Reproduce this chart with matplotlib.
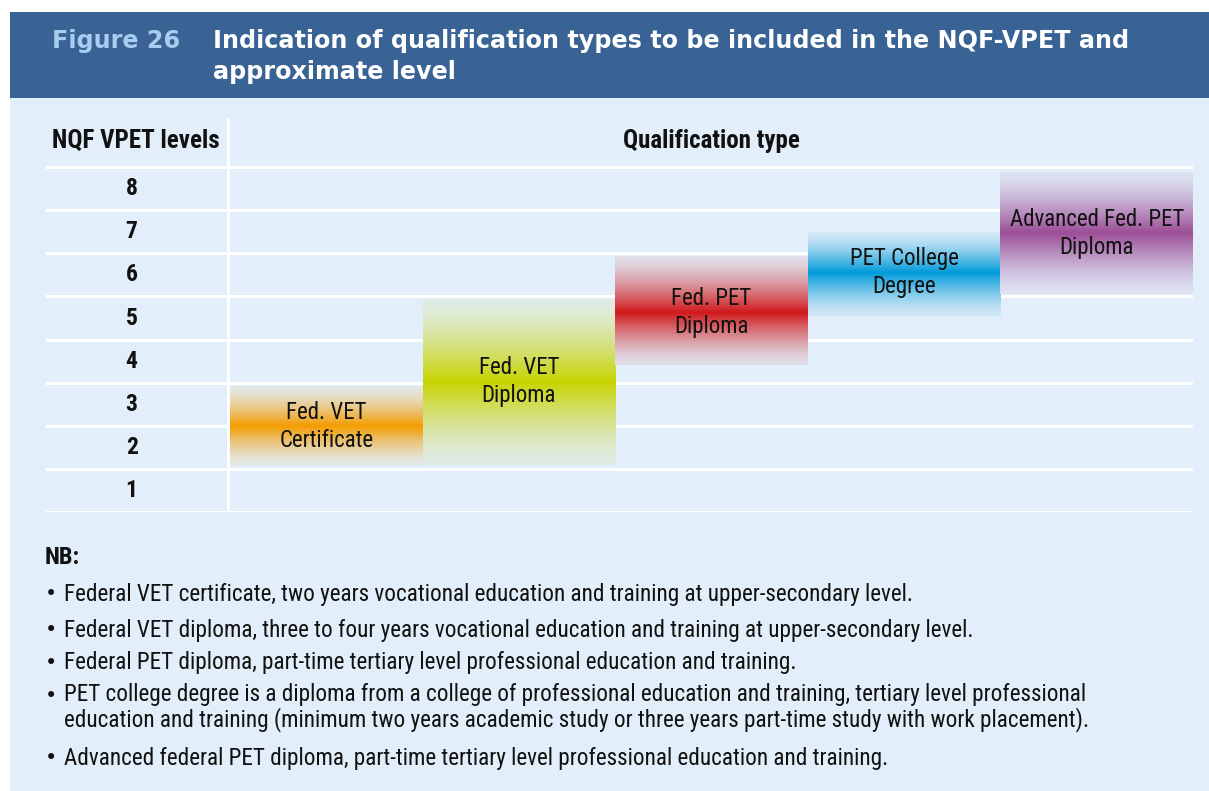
import numpy as np
import matplotlib
matplotlib.use('Agg')
from matplotlib import pyplot as plt
from matplotlib.patches import Rectangle
from matplotlib.colors import to_rgb

# qualification bars: column order, level span and peak level
quals = ['Fed. VET\nCertificate', 'Fed. VET\nDiploma', 'Fed. PET\nDiploma',
         'PET College\nDegree', 'Advanced Fed. PET\nDiploma']
lows = [1.59, 1.59, 3.91, 5.05, 5.56]
highs = [3.41, 5.42, 6.42, 6.98, 8.37]
peaks = [2.49, 3.52, 5.12, 6.05, 6.97]
colours = ['#f39c00', '#c8d400', '#d0191c', '#009ad9', '#9c4d97']

levels = [1, 2, 3, 4, 5, 6, 7, 8]

notes = [
    'Federal VET certificate, two years vocational education and training at upper-secondary level.',
    'Federal VET diploma, three to four years vocational education and training at upper-secondary level.',
    'Federal PET diploma, part-time tertiary level professional education and training.',
    'PET college degree is a diploma from a college of professional education and training, tertiary level professional\n'
    'education and training (minimum two years academic study or three years part-time study with work placement).',
    'Advanced federal PET diploma, part-time tertiary level professional education and training.',
]

NARROW = ['Roboto Condensed', 'Archivo Narrow', 'Liberation Sans Narrow', 'DejaVu Sans']
HEAD = '#386394'
PANEL = '#e2eef9'

W, H = 1209, 791
fig = plt.figure(figsize=(W / 100, H / 100), dpi=100)
fig.patch.set_facecolor('white')


def fx(px):
    return px / W


def fy(py):
    return 1 - py / H


# header band and panel
fig.add_artist(Rectangle((fx(10), fy(791)), fx(1199), (791 - 98) / H,
                         transform=fig.transFigure, facecolor=PANEL, edgecolor='none', zorder=0))
fig.add_artist(Rectangle((fx(10), fy(98)), fx(1199), (98 - 12) / H,
                         transform=fig.transFigure, facecolor=HEAD, edgecolor='none', zorder=0))

fig.text(fx(52), fy(41), 'Figure 26', color='#a8cdf0', fontsize=17.2, fontweight='bold',
         va='center', ha='left', family='DejaVu Sans')
fig.text(fx(213), fy(56.5), 'Indication of qualification types to be included in the NQF-VPET and\napproximate level',
         color='white', fontsize=17.2, fontweight='bold', va='center', ha='left',
         family='DejaVu Sans', linespacing=1.33)

# table axes
ax = fig.add_axes([fx(45), fy(512), fx(1193 - 45), (512 - 118) / H])
ax.set_xlim(-0.96, 5.0)
ax.set_ylim(0.5, 9.64)
ax.axis('off')

ax.hlines([l + 0.5 for l in range(0, 9)], -0.96, 5.0, color='white', lw=2.2, zorder=1)
ax.vlines(-0.01, 0.5, 9.64, color='white', lw=2.2, zorder=1)

bg = np.array(to_rgb(PANEL))
for i, q in enumerate(quals):
    n = 200
    y = np.linspace(lows[i], highs[i], n)
    d = np.where(y >= peaks[i], (y - peaks[i]) / (highs[i] - peaks[i]),
                 (peaks[i] - y) / (peaks[i] - lows[i]))
    a = 0.07 + 0.93 * (1 - d) ** 1.4
    c = np.array(to_rgb(colours[i]))
    img = bg[None, :] * (1 - a[:, None]) + c[None, :] * a[:, None]
    ax.imshow(img[:, None, :], extent=[i, i + 1, lows[i], highs[i]], origin='lower',
              aspect='auto', interpolation='bilinear', zorder=2)
    ax.text(i + 0.5, peaks[i], q, ha='center', va='center', fontsize=16.5,
            family=NARROW, color='#111111', linespacing=1.28, zorder=3)

for l in levels:
    ax.text(-0.51, l, str(l), ha='center', va='center', fontsize=17,
            fontweight='bold', family=NARROW, color='#111111')

ax.text(-0.49, 9.1, 'NQF VPET levels', ha='center', va='center', fontsize=18,
        fontweight='bold', family=NARROW, color='#111111')
ax.text(2.5, 9.1, 'Qualification type', ha='center', va='center', fontsize=18,
        fontweight='bold', family=NARROW, color='#111111')

# notes
fig.text(fx(45), fy(557), 'NB:', fontsize=17.5, fontweight='bold', family=NARROW,
         va='center', ha='left', color='#111111')
note_y = [594, 630, 663, 707.5, 758]
for ny, note in zip(note_y, notes):
    fig.text(fx(45), fy(ny if '\n' not in note else 696), '\u2022', fontsize=15, family='DejaVu Sans',
             va='center', ha='left', color='#111111')
    fig.text(fx(64), fy(ny), note, fontsize=16.7, family=NARROW, va='center', ha='left',
             color='#111111', linespacing=1.05)

fig.savefig('out.png', dpi=100)
